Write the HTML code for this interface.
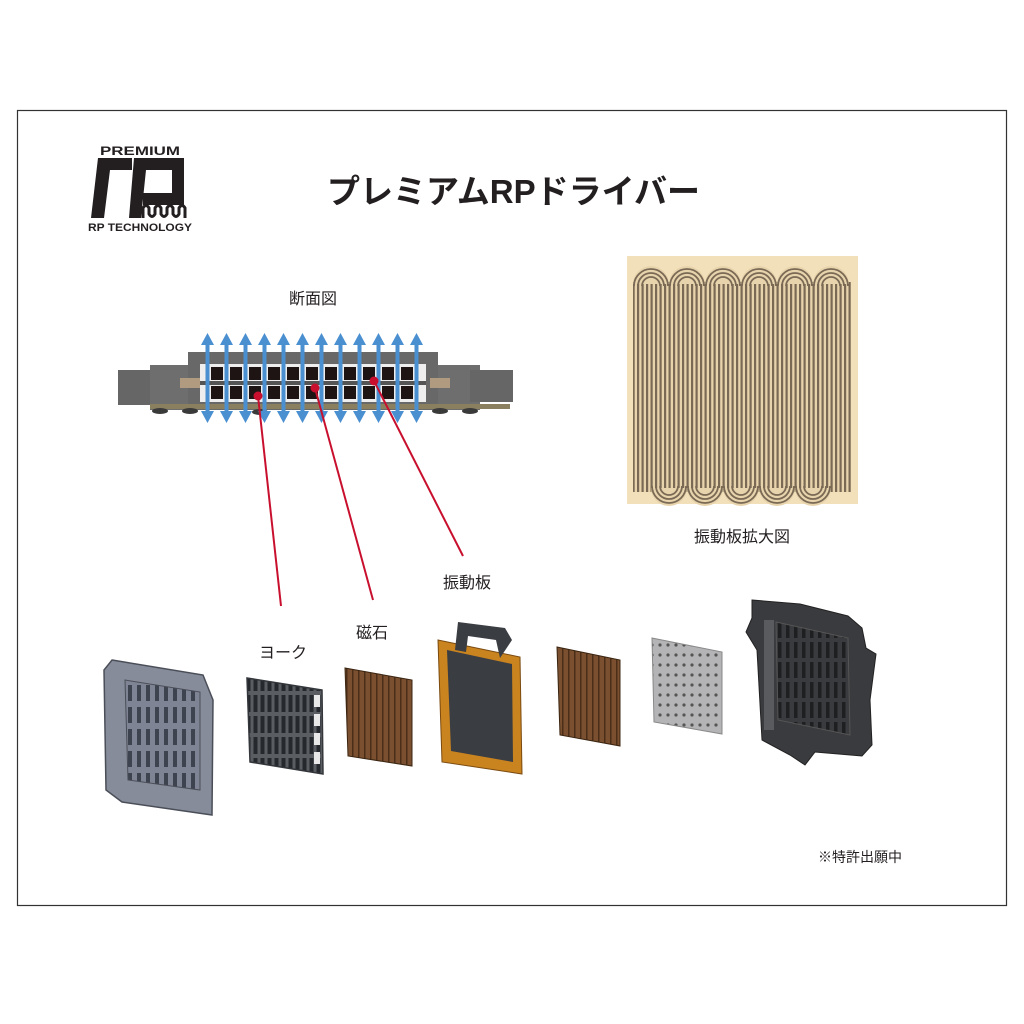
<!DOCTYPE html>
<html><head><meta charset="utf-8"><style>
html,body{margin:0;padding:0;background:#fff;}
svg{display:block;}
text{font-family:"Liberation Sans","Noto Sans CJK JP",sans-serif;fill:#231f20;}
</style></head><body>
<svg width="1024" height="1024" viewBox="0 0 1024 1024" xmlns="http://www.w3.org/2000/svg">
<defs>
<pattern id="stripes" x="627" y="0" width="4.5" height="10" patternUnits="userSpaceOnUse">
<rect width="4.5" height="10" fill="#e8d4ac"/><rect x="1" width="2.2" height="10" fill="#7a6a55"/>
</pattern>
<pattern id="brown" x="0" y="0" width="6" height="10" patternUnits="userSpaceOnUse">
<rect width="6" height="10" fill="#7a5030"/><rect x="4" width="1.5" height="10" fill="#4a2e18"/>
</pattern>
<pattern id="slots" x="0" y="0" width="9" height="22" patternUnits="userSpaceOnUse">
<rect width="9" height="22" fill="#7e8494"/><rect x="2" y="3" width="4" height="16" fill="#3e4350"/>
</pattern>
<pattern id="yslots" x="0" y="0" width="7" height="21" patternUnits="userSpaceOnUse">
<rect width="7" height="21" fill="#5a5e63"/><rect x="1.5" y="2" width="4" height="17" fill="#25282c"/>
</pattern>
<pattern id="dots" x="0" y="0" width="8" height="10" patternUnits="userSpaceOnUse">
<rect width="8" height="10" fill="#b4b4b6"/><circle cx="4" cy="5" r="1.6" fill="#555"/>
</pattern>
<pattern id="hslots" x="0" y="0" width="8" height="20" patternUnits="userSpaceOnUse">
<rect width="8" height="20" fill="#3a3b3e"/><rect x="2" y="2" width="3.5" height="16" fill="#1e1f21"/>
</pattern>
</defs>

<rect x="17.5" y="110.5" width="989" height="795" fill="none" stroke="#333" stroke-width="1.2"/>

<!-- Logo -->
<text x="140" y="155" font-size="12" font-weight="bold" text-anchor="middle" textLength="80" lengthAdjust="spacingAndGlyphs">PREMIUM</text>
<g fill="#231f20">
<polygon points="98,158 132,158 132,170 110,170 104,218 91,218"/>
<polygon points="134,158 184,158 184,205 143,205 143,193 172,193 172,170 146,170 141,218 129,218"/>
<path d="M143,218 v-10 q3,-5 6,0 v6 q3,5 6,0 v-6 q3,-5 6,0 v6 q3,5 6,0 v-6 q3,-5 6,0 v6 q3,5 6,0 v-6 q3,-5 6,0 v10" fill="none" stroke="#231f20" stroke-width="3"/>
</g>
<text x="140" y="231" font-size="11" font-weight="bold" text-anchor="middle" textLength="104" lengthAdjust="spacingAndGlyphs">RP TECHNOLOGY</text>

<!-- Title -->
<text x="327" y="203" font-size="33" font-weight="bold" textLength="373" lengthAdjust="spacingAndGlyphs">プレミアムRPドライバー</text>

<!-- Cross section -->
<text x="313" y="304" font-size="16" text-anchor="middle">断面図</text>
<g>
<rect x="118" y="370" width="50" height="35" fill="#666"/>
<rect x="150" y="365" width="330" height="45" fill="#6e6e6e"/>
<rect x="188" y="352" width="250" height="58" fill="#686868"/>
<rect x="470" y="370" width="43" height="32" fill="#666"/>
<rect x="180" y="378" width="20" height="10" fill="#b09a80"/>
<rect x="430" y="378" width="20" height="10" fill="#b09a80"/>
<rect x="150" y="404" width="360" height="5" fill="#8a8060"/>
<rect x="200" y="364" width="226" height="38" fill="#eeeeee"/>
<rect x="200" y="381" width="226" height="4" fill="#555"/>
<g fill="#1e1414">
<rect x="211" y="367" width="12" height="13"/><rect x="230" y="367" width="12" height="13"/><rect x="249" y="367" width="12" height="13"/><rect x="268" y="367" width="12" height="13"/><rect x="287" y="367" width="12" height="13"/><rect x="306" y="367" width="12" height="13"/><rect x="325" y="367" width="12" height="13"/><rect x="344" y="367" width="12" height="13"/><rect x="363" y="367" width="12" height="13"/><rect x="382" y="367" width="12" height="13"/><rect x="401" y="367" width="12" height="13"/>
<rect x="211" y="386" width="12" height="13"/><rect x="230" y="386" width="12" height="13"/><rect x="249" y="386" width="12" height="13"/><rect x="268" y="386" width="12" height="13"/><rect x="287" y="386" width="12" height="13"/><rect x="306" y="386" width="12" height="13"/><rect x="325" y="386" width="12" height="13"/><rect x="344" y="386" width="12" height="13"/><rect x="363" y="386" width="12" height="13"/><rect x="382" y="386" width="12" height="13"/><rect x="401" y="386" width="12" height="13"/>
</g>
<g fill="#3a3a3a"><ellipse cx="160" cy="411" rx="8" ry="3"/><ellipse cx="190" cy="411" rx="8" ry="3"/><ellipse cx="260" cy="412" rx="8" ry="3"/><ellipse cx="440" cy="411" rx="8" ry="3"/><ellipse cx="470" cy="411" rx="8" ry="3"/></g>
<g fill="#4a8fd0">
<g id="ar"><rect x="205.5" y="342" width="4" height="72"/><polygon points="201,345 207.5,333 214,345"/><polygon points="201,411 207.5,423 214,411"/></g>
<use href="#ar" x="19"/><use href="#ar" x="38"/><use href="#ar" x="57"/><use href="#ar" x="76"/><use href="#ar" x="95"/><use href="#ar" x="114"/><use href="#ar" x="133"/><use href="#ar" x="152"/><use href="#ar" x="171"/><use href="#ar" x="190"/><use href="#ar" x="209"/>
</g>
</g>

<!-- red leader lines -->
<g stroke="#c8102e" stroke-width="2" fill="#c8102e">
<line x1="258" y1="396" x2="281" y2="606"/><circle cx="258" cy="396" r="3.5"/>
<line x1="315" y1="388" x2="373" y2="600"/><circle cx="315" cy="388" r="3.5"/>
<line x1="374" y1="381" x2="463" y2="556"/><circle cx="374" cy="381" r="3.5"/>
</g>

<!-- Pattern enlarged -->
<rect x="627" y="256" width="231" height="248" fill="#f2e0bb"/>
<rect x="633" y="282" width="218" height="210" fill="url(#stripes)"/>
<g fill="#e8d4ac">
<path d="M633,284 a18,18 0 0 1 36,0 a18,18 0 0 1 36,0 a18,18 0 0 1 36,0 a18,18 0 0 1 36,0 a18,18 0 0 1 36,0 a18,18 0 0 1 36,0 Z"/>
<path d="M651,488 a18,18 0 0 0 36,0 a18,18 0 0 0 36,0 a18,18 0 0 0 36,0 a18,18 0 0 0 36,0 a18,18 0 0 0 36,0 Z"/>
</g>
<g fill="none" stroke="#7a6a55" stroke-width="1.8">
<path d="M634,286 a17,17 0 0 1 34,0 M670,286 a17,17 0 0 1 34,0 M706,286 a17,17 0 0 1 34,0 M742,286 a17,17 0 0 1 34,0 M778,286 a17,17 0 0 1 34,0 M814,286 a17,17 0 0 1 34,0"/>
<path d="M638,286 a13,13 0 0 1 26,0 M674,286 a13,13 0 0 1 26,0 M710,286 a13,13 0 0 1 26,0 M746,286 a13,13 0 0 1 26,0 M782,286 a13,13 0 0 1 26,0 M818,286 a13,13 0 0 1 26,0"/>
<path d="M642,286 a9,9 0 0 1 18,0 M678,286 a9,9 0 0 1 18,0 M714,286 a9,9 0 0 1 18,0 M750,286 a9,9 0 0 1 18,0 M786,286 a9,9 0 0 1 18,0 M822,286 a9,9 0 0 1 18,0"/>
<path d="M652,486 a17,17 0 0 0 34,0 M688,486 a17,17 0 0 0 34,0 M724,486 a17,17 0 0 0 34,0 M760,486 a17,17 0 0 0 34,0 M796,486 a17,17 0 0 0 34,0"/>
<path d="M656,486 a13,13 0 0 0 26,0 M692,486 a13,13 0 0 0 26,0 M728,486 a13,13 0 0 0 26,0 M764,486 a13,13 0 0 0 26,0 M800,486 a13,13 0 0 0 26,0"/>
<path d="M660,486 a9,9 0 0 0 18,0 M696,486 a9,9 0 0 0 18,0 M732,486 a9,9 0 0 0 18,0 M768,486 a9,9 0 0 0 18,0 M804,486 a9,9 0 0 0 18,0"/>
</g>
<text x="742" y="542" font-size="16" text-anchor="middle">振動板拡大図</text>

<!-- labels -->
<text x="467" y="588" font-size="16" text-anchor="middle">振動板</text>
<text x="372" y="638" font-size="16" text-anchor="middle">磁石</text>
<text x="283" y="658" font-size="16" text-anchor="middle">ヨーク</text>
<text x="860" y="862" font-size="14" text-anchor="middle">※特許出願中</text>

<!-- Part 1 left frame -->
<polygon points="112,660 203,675 213,700 212,815 122,802 106,790 104,670" fill="#868c9a" stroke="#4a4e58" stroke-width="1.5"/>
<polygon points="125,680 200,692 200,790 128,780" fill="url(#slots)" stroke="#4a4e58"/>
<!-- Part 2 yoke -->
<polygon points="247,678 322,690 323,774 250,762" fill="url(#yslots)" stroke="#33363a" stroke-width="1.5"/>
<g fill="#e8e8e8"><rect x="314" y="695" width="6" height="12"/><rect x="314" y="714" width="6" height="12"/><rect x="314" y="733" width="6" height="12"/><rect x="314" y="752" width="6" height="12"/></g>
<!-- Part 3 magnet -->
<polygon points="345,668 412,680 412,766 348,756" fill="url(#brown)" stroke="#3a2410"/>
<!-- Part 4 diaphragm -->
<polygon points="438,640 520,657 522,774 442,762" fill="#c9831f" stroke="#7a4a10"/>
<polygon points="447,650 512,664 513,762 451,751" fill="#3a3d42"/>
<path d="M455,650 L458,622 L505,628 L512,640 L500,658 L496,640 L468,636 L466,652 Z" fill="#3a3d42"/>
<!-- Part 5 magnet -->
<polygon points="557,647 620,660 620,746 560,735" fill="url(#brown)" stroke="#3a2410"/>
<!-- Part 6 plate -->
<polygon points="652,638 722,652 722,734 654,722" fill="url(#dots)" stroke="#888"/>
<!-- Part 7 housing -->
<polygon points="752,600 800,604 848,616 862,628 866,648 876,654 870,700 872,745 862,756 815,752 805,765 790,755 762,740 757,650 746,632 752,618" fill="#3a3b3e" stroke="#222"/>
<polygon points="776,622 848,638 850,735 778,720" fill="url(#hslots)" stroke="#555"/>
<rect x="764" y="620" width="10" height="110" fill="#5a5b5e"/>
</svg>
</body></html>
